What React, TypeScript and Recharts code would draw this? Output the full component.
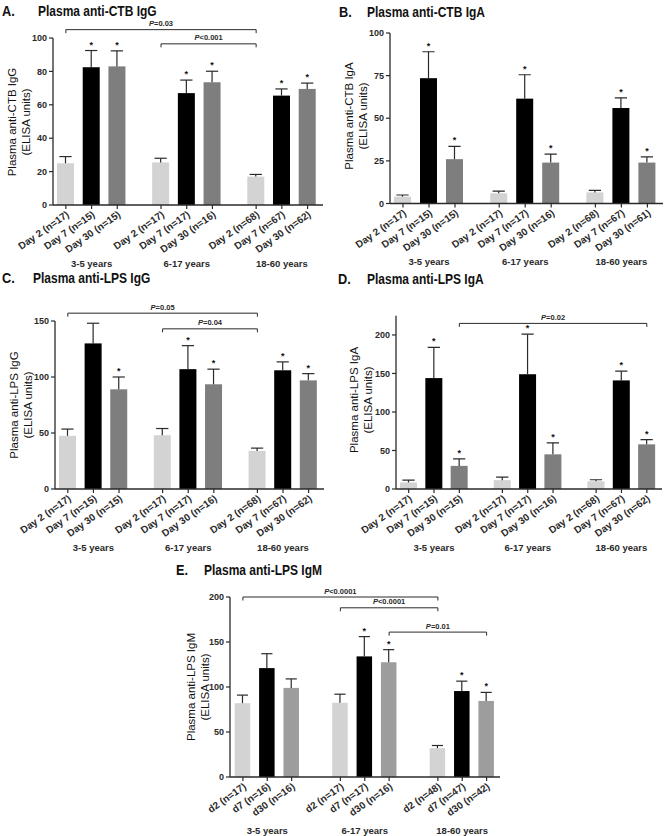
import React from 'react';
import { BarChart, Bar, XAxis, YAxis, ReferenceLine } from 'recharts';

// tick labels
const ageGroups = ['3-5 years', '6-17 years', '18-60 years'];
const dayLabels = ['Day 2 (n=17)', 'Day 7 (n=15)', 'Day 30 (n=15)', 'Day 2 (n=17)', 'Day 7 (n=17)', 'Day 30 (n=16)', 'Day 2 (n=68)', 'Day 7 (n=67)', 'Day 30 (n=62)'];
const dayLabelsCtbIgA = ['Day 2 (n=17)', 'Day 7 (n=15)', 'Day 30 (n=15)', 'Day 2 (n=17)', 'Day 7 (n=17)', 'Day 30 (n=16)', 'Day 2 (n=68)', 'Day 7 (n=67)', 'Day 30 (n=61)'];
const igmLabels = ['d2 (n=17)', 'd7 (n=16)', 'd30 (n=16)', 'd2 (n=17)', 'd7 (n=17)', 'd30 (n=16)', 'd2 (n=48)', 'd7 (n=47)', 'd30 (n=42)'];

// A. anti-CTB IgG
const ctbIgGMean = [25, 82.5, 83, 25.5, 67, 73.5, 17, 65.5, 69.5];
const ctbIgGSem = [4, 10, 9.3, 2.5, 7.8, 6.6, 1.3, 4, 3.5];
// B. anti-CTB IgA
const ctbIgAMean = [4, 73.5, 26, 6, 61.5, 24, 6.5, 56, 24];
const ctbIgASem = [1, 15.5, 7.5, 1.3, 14, 5, 1.2, 6, 3.3];
// C. anti-LPS IgG
const lpsIgGMean = [47.5, 130, 89, 48, 107, 93.5, 34, 106, 97];
const lpsIgGSem = [6, 18, 11, 6, 21, 13.5, 2.5, 7.5, 6];
// D. anti-LPS IgA
const lpsIgAMean = [8.5, 144, 30, 11.5, 149, 45, 10, 141, 58];
const lpsIgASem = [3, 40, 9, 4, 52, 15, 2, 12, 6];
// E. anti-LPS IgM
const lpsIgMMean = [82, 121, 99, 82.5, 134, 127.5, 32, 95.5, 84.5];
const lpsIgMSem = [9, 16, 10, 9.5, 22, 14, 3, 11, 9.5];

const starsD7D30 = [false, true, true, false, true, true, false, true, true];
const starsIgM = [false, false, false, false, true, true, false, true, true];

type Bracket = { from: number; to: number; y: number; text: string };
const ctbIgGBrackets: Bracket[] = [
  { from: 0, to: 6, y: 105, text: 'P=0.03' },
  { from: 3, to: 6, y: 96.5, text: 'P<0.001' },
];
const lpsIgGBrackets: Bracket[] = [
  { from: 0, to: 6, y: 157, text: 'P=0.05' },
  { from: 3, to: 6, y: 143, text: 'P=0.04' },
];
const lpsIgABrackets: Bracket[] = [{ from: 2, to: 8, y: 215, text: 'P=0.02' }];
const lpsIgMBrackets: Bracket[] = [
  { from: 0, to: 6, y: 200, text: 'P<0.0001' },
  { from: 3, to: 6, y: 188, text: 'P<0.0001' },
  { from: 5, to: 8, y: 161, text: 'P=0.01' },
];

// bar slot positions on the x axis
const slotsAD = [0, 1, 2, 3.7, 4.7, 5.7, 7.4, 8.4, 9.4];
const slotsE = [0, 1, 2, 4, 5, 6, 8, 9, 10];

const FONT = '"Liberation Sans", Arial, sans-serif';
const INK = '#2a2a2a';
const colorsAD = ['#d3d3d3', '#000000', '#7e7e7e'];
const colorsE = ['#d3d3d3', '#000000', '#9d9d9d'];

const ErrBar = (props: any) => {
  const { x, y, width, height, payload, index, colors } = props;
  if (height == null || !payload) return null;
  const perUnit = payload.mean > 0 ? height / payload.mean : 0;
  const top = y - payload.sem * perUnit;
  const cx = x + width / 2;
  const cap = width * 0.36;
  return (
    <g>
      <rect x={x} y={y} width={width} height={height} fill={colors[index % 3]} />
      <line x1={cx} y1={y} x2={cx} y2={top} stroke={INK} strokeWidth={1.2} />
      <line x1={cx - cap} y1={top} x2={cx + cap} y2={top} stroke={INK} strokeWidth={1.2} />
      {payload.star ? (
        <text x={cx} y={top - 3} textAnchor="middle" fontSize={9} fontWeight="bold" fill="#111" fontFamily={FONT}>
          *
        </text>
      ) : null}
    </g>
  );
};

const XTick = (props: any) => {
  const { x, y, payload, labels, slots, groupDy } = props;
  const i = slots.indexOf(payload.value);
  if (i < 0) return null;
  const ax = x + 4;
  const ay = y + 5;
  return (
    <g>
      <text
        x={ax}
        y={ay}
        transform={`rotate(-35 ${ax} ${ay})`}
        textAnchor="end"
        fontSize={10}
        fontWeight="bold"
        fill={INK}
        fontFamily={FONT}
      >
        {labels[i]}
      </text>
      {i % 3 === 1 ? (
        <text x={x} y={y + groupDy} textAnchor="middle" fontSize={9.5} fontWeight="bold" fill={INK} fontFamily={FONT}>
          {ageGroups[Math.floor(i / 3)]}
        </text>
      ) : null}
    </g>
  );
};

const bracketShape = (text: string) => (p: any) => {
  const { x1, y1, x2 } = p;
  return (
    <g>
      <path d={`M${x1},${y1 + 3.5}V${y1}H${x2}V${y1 + 3.5}`} fill="none" stroke={INK} strokeWidth={1} />
      <text x={(x1 + x2) / 2} y={y1 - 3.5} textAnchor="middle" fontSize={7.5} fontWeight="bold" fill={INK} fontFamily={FONT}>
        <tspan fontStyle="italic">P</tspan>
        {text.slice(1)}
      </text>
    </g>
  );
};

type PanelProps = {
  box: { left: number; top: number; width: number; height: number };
  margin: { top: number; right: number; bottom: number; left: number };
  yDomain: [number, number];
  yTicks: number[];
  slots: number[];
  xDomain: [number, number];
  labels: string[];
  means: number[];
  sems: number[];
  stars: boolean[];
  colors: string[];
  brackets: Bracket[];
  barSize: number;
  xAxisHeight: number;
  groupDy: number;
};

const Panel = (p: PanelProps) => {
  const rows = p.means.map((m, i) => ({ pos: p.slots[i], mean: m, sem: p.sems[i], star: p.stars[i] }));
  return (
    <div style={{ position: 'absolute', left: p.box.left, top: p.box.top }}>
      <BarChart width={p.box.width} height={p.box.height} data={rows} margin={p.margin} barSize={p.barSize}>
        <XAxis
          type="number"
          dataKey="pos"
          domain={p.xDomain}
          ticks={p.slots}
          interval={0}
          allowDataOverflow
          height={p.xAxisHeight}
          tickSize={4}
          tickMargin={2}
          axisLine={{ stroke: INK, strokeWidth: 1.3 }}
          tickLine={{ stroke: INK, strokeWidth: 1.2 }}
          tick={<XTick labels={p.labels} slots={p.slots} groupDy={p.groupDy} />}
        />
        <YAxis
          type="number"
          domain={p.yDomain}
          ticks={p.yTicks}
          interval={0}
          allowDataOverflow
          width={40}
          tickSize={4}
          tickMargin={2}
          axisLine={{ stroke: INK, strokeWidth: 1.3 }}
          tickLine={{ stroke: INK, strokeWidth: 1.2 }}
          tick={{ fontSize: 9, fontWeight: 'bold', fill: INK, fontFamily: FONT }}
        />
        <Bar dataKey="mean" isAnimationActive={false} shape={<ErrBar colors={p.colors} />} />
        {p.brackets.map((b, k) => (
          <ReferenceLine
            key={k}
            segment={[
              { x: p.slots[b.from], y: b.y },
              { x: p.slots[b.to], y: b.y },
            ]}
            ifOverflow="visible"
            shape={bracketShape(b.text)}
          />
        ))}
      </BarChart>
    </div>
  );
};

const Title = ({ x, textX, y, letter, text }: { x: number; textX: number; y: number; letter: string; text: string }) => (
  <>
    <div style={{ position: 'absolute', left: x, top: y - 9, lineHeight: '18px', fontSize: 15, fontWeight: 'bold', color: '#111', transform: 'scaleX(0.85)', transformOrigin: 'left center', whiteSpace: 'nowrap' }}>
      {letter}
    </div>
    <div style={{ position: 'absolute', left: textX, top: y - 9, lineHeight: '18px', fontSize: 15, fontWeight: 'bold', color: '#111', transform: 'scaleX(0.8)', transformOrigin: 'left center', whiteSpace: 'nowrap' }}>
      {text}
    </div>
  </>
);

const YLabel = ({ x, y, text }: { x: number; y: number; text: string }) => (
  <div
    style={{
      position: 'absolute',
      left: x,
      top: y,
      transform: 'translate(-50%, -50%) rotate(-90deg)',
      whiteSpace: 'nowrap',
      textAlign: 'center',
      fontSize: 11.5,
      lineHeight: '14px',
      color: '#111',
    }}
  >
    {text}
    <br />
    (ELISA units)
  </div>
);

export default function App() {
  return (
    <div style={{ position: 'absolute', left: 0, top: 0, width: 664, height: 836, background: '#fff', fontFamily: FONT, overflow: 'hidden' }}>
      <Title x={2} textX={38} y={11} letter="A." text="Plasma anti-CTB IgG" />
      <Title x={339} textX={367} y={11.5} letter="B." text="Plasma anti-CTB IgA" />
      <Title x={2} textX={33} y={278} letter="C." text="Plasma anti-LPS IgG" />
      <Title x={338} textX={367} y={279} letter="D." text="Plasma anti-LPS IgA" />
      <Title x={176} textX={204} y={570} letter="E." text="Plasma anti-LPS IgM" />

      <YLabel x={19} y={122} text="Plasma anti-CTB IgG" />
      <YLabel x={356} y={116} text="Plasma anti-CTB IgA" />
      <YLabel x={21} y={405} text="Plasma anti-LPS IgG" />
      <YLabel x={361} y={400} text="Plasma anti-LPS IgA" />
      <YLabel x={198} y={687} text="Plasma anti-LPS IgM" />

      <Panel
        box={{ left: 0, top: 0, width: 332, height: 280 }}
        margin={{ top: 38, right: 9, bottom: 5, left: 13 }}
        yDomain={[0, 100]}
        yTicks={[0, 20, 40, 60, 80, 100]}
        slots={slotsAD}
        xDomain={[-0.5, 10]}
        labels={dayLabels}
        means={ctbIgGMean}
        sems={ctbIgGSem}
        stars={starsD7D30}
        colors={colorsAD}
        brackets={ctbIgGBrackets}
        barSize={17}
        xAxisHeight={70}
        groupDy={55.5}
      />
      <Panel
        box={{ left: 332, top: 0, width: 332, height: 280 }}
        margin={{ top: 33, right: 1, bottom: 6.5, left: 18 }}
        yDomain={[0, 100]}
        yTicks={[0, 25, 50, 75, 100]}
        slots={slotsAD}
        xDomain={[-0.5, 10]}
        labels={dayLabelsCtbIgA}
        means={ctbIgAMean}
        sems={ctbIgASem}
        stars={starsD7D30}
        colors={colorsAD}
        brackets={[]}
        barSize={17}
        xAxisHeight={70}
        groupDy={55.5}
      />
      <Panel
        box={{ left: 0, top: 280, width: 332, height: 280 }}
        margin={{ top: 41, right: 8, bottom: 1, left: 15 }}
        yDomain={[0, 150]}
        yTicks={[0, 50, 100, 150]}
        slots={slotsAD}
        xDomain={[-0.5, 10]}
        labels={dayLabels}
        means={lpsIgGMean}
        sems={lpsIgGSem}
        stars={starsD7D30}
        colors={colorsAD}
        brackets={lpsIgGBrackets}
        barSize={17}
        xAxisHeight={70}
        groupDy={55.5}
      />
      <Panel
        box={{ left: 332, top: 280, width: 332, height: 280 }}
        margin={{ top: 35.7, right: 2, bottom: 1, left: 24 }}
        yDomain={[0, 225]}
        yTicks={[0, 50, 100, 150, 200]}
        slots={slotsAD}
        xDomain={[-0.5, 10]}
        labels={dayLabels}
        means={lpsIgAMean}
        sems={lpsIgASem}
        stars={starsD7D30}
        colors={colorsAD}
        brackets={lpsIgABrackets}
        barSize={17}
        xAxisHeight={70}
        groupDy={55.5}
      />
      <Panel
        box={{ left: 160, top: 560, width: 350, height: 276 }}
        margin={{ top: 37, right: 10, bottom: 4, left: 30 }}
        yDomain={[0, 200]}
        yTicks={[0, 50, 100, 150, 200]}
        slots={slotsE}
        xDomain={[-0.53, 10.55]}
        labels={igmLabels}
        means={lpsIgMMean}
        sems={lpsIgMSem}
        stars={starsIgM}
        colors={colorsE}
        brackets={lpsIgMBrackets}
        barSize={15.5}
        xAxisHeight={55}
        groupDy={50.5}
      />
    </div>
  );
}
